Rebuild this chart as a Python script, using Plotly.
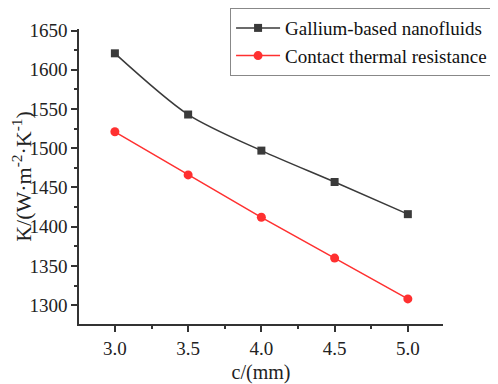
import plotly.graph_objects as go

c_mm = [3.0, 3.5, 4.0, 4.5, 5.0]
gallium = [1621, 1543, 1497, 1457, 1416]
contact = [1521, 1466, 1412, 1360, 1308]
names = ["Gallium-based nanofluids", "Contact thermal resistance"]

FONT = "Liberation Serif, Times New Roman, serif"

fig = go.Figure()
fig.add_trace(go.Scatter(
    x=c_mm, y=gallium, name=names[0], mode="lines+markers",
    line=dict(color="#3a3a3a", width=1.5, shape="spline", smoothing=0.8),
    marker=dict(symbol="square", size=8, color="#3a3a3a"),
))
fig.add_trace(go.Scatter(
    x=c_mm, y=contact, name=names[1], mode="lines+markers",
    line=dict(color="#ff3030", width=1.5),
    marker=dict(symbol="circle", size=9, color="#ff3030"),
))

# page body has an 8px default margin, so the figure is sized to the visible area
fig.update_layout(
    width=490, height=376,
    margin=dict(l=71, r=55, t=21, b=60, autoexpand=False),
    paper_bgcolor="white", plot_bgcolor="white",
    font=dict(family=FONT, size=19, color="#222"),
    showlegend=True,
    legend=dict(
        x=0.415, y=1.071, xanchor="left", yanchor="top",
        bordercolor="#888", borderwidth=1, bgcolor="white",
        font=dict(family=FONT, size=19, color="#111"),
        tracegroupgap=0, itemwidth=44,
    ),
    xaxis=dict(
        range=[2.755, 5.24], tickvals=[3.0, 3.5, 4.0, 4.5, 5.0],
        ticktext=["3.0", "3.5", "4.0", "4.5", "5.0"],
        showline=True, linecolor="#333", linewidth=1.5,
        ticks="outside", ticklen=6, tickcolor="#333", tickwidth=1.5,
        minor=dict(tickvals=[2.75, 3.25, 3.75, 4.25, 4.75, 5.25], ticks="outside", ticklen=3, tickcolor="#333"),
        showgrid=False, zeroline=False,
        title=dict(text="c/(mm)", font=dict(family=FONT, size=20), standoff=10),
        tickfont=dict(family=FONT, size=19),
    ),
    yaxis=dict(
        range=[1276, 1652], tickvals=[1300, 1350, 1400, 1450, 1500, 1550, 1600, 1650],
        showline=True, linecolor="#333", linewidth=1.5,
        ticks="outside", ticklen=6, tickcolor="#333", tickwidth=1.5,
        minor=dict(tickvals=[1325, 1375, 1425, 1475, 1525, 1575, 1625], ticks="outside", ticklen=3, tickcolor="#333"),
        showgrid=False, zeroline=False,
        title=dict(text="K/(W·m<sup>-2</sup>·K<sup>-1</sup>)", font=dict(family=FONT, size=22), standoff=9),
        tickfont=dict(family=FONT, size=19),
    ),
)

fig.write_html("out.html")
